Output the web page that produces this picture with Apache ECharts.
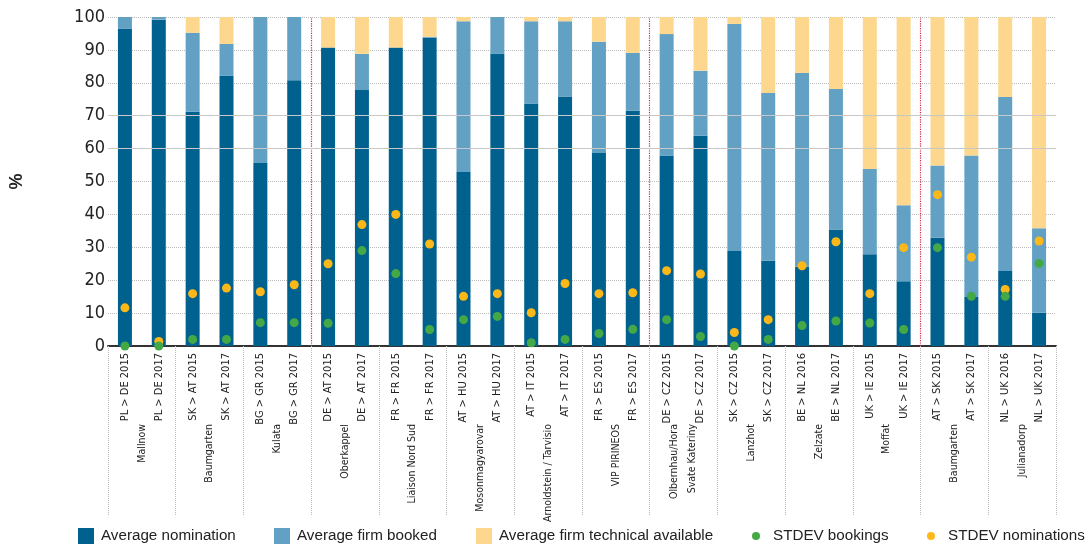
<!DOCTYPE html>
<html><head><meta charset="utf-8">
<script src="https://cdn.jsdelivr.net/npm/echarts@6/dist/echarts.min.js"></script>
<style>html,body{margin:0;padding:0;background:#fff}#c{width:1088px;height:549px}</style>
</head><body><div id="c"></div>
<script>
const categories = ['PL > DE 2015','PL > DE 2017','SK > AT 2015','SK > AT 2017','BG > GR 2015','BG > GR 2017','DE > AT 2015','DE > AT 2017','FR > FR 2015','FR > FR 2017','AT > HU 2015','AT > HU 2017','AT > IT 2015','AT > IT 2017','FR > ES 2015','FR > ES 2017','DE > CZ 2015','DE > CZ 2017','SK > CZ 2015','SK > CZ 2017','BE > NL 2016','BE > NL 2017','UK > IE 2015','UK > IE 2017','AT > SK 2015','AT > SK 2017','NL > UK 2016','NL > UK 2017'];
const groups = ['Mallnow','Baumgarten','Kulata','Oberkappel','Liaison Nord Sud','Mosonmagyarovar','Arnoldstein / Tarvisio','VIP PIRINEOS','Olbernhau/Hora\nSvate Kateriny','Lanzhot','Zelzate','Moffat','Baumgarten','Julianadorp'];
const avgNomination = [96.5,99.2,71.2,82.1,55.6,80.8,90.7,77.8,90.7,93.7,52.9,88.8,73.7,75.8,58.7,71.5,57.9,63.9,28.9,25.9,24.1,35.4,27.9,19.7,32.9,14.9,22.8,10.1];
const avgFirmBooked = [3.5,0.8,24.0,9.7,44.4,19.2,0,11.0,0,0.3,45.8,11.2,25.0,22.9,33.8,17.6,36.9,19.8,69.0,51.0,58.9,42.7,25.9,23.1,22.0,43.0,52.9,25.7];
const avgTechAvailable = [0,0,4.8,8.2,0,0,9.3,11.2,9.3,6.0,1.3,0,1.3,1.3,7.5,10.9,5.2,16.3,2.1,23.1,17.0,21.9,46.2,57.2,45.1,42.1,24.3,64.2];
const stdevBookings = [0,0,2.0,2.0,7.1,7.1,6.9,29.0,22.0,5.0,8.0,9.0,1.0,2.0,3.8,5.1,8.0,2.9,0,2.0,6.2,7.6,7.0,5.0,29.9,15.1,15.1,25.1];
const stdevNominations = [11.6,1.4,15.9,17.6,16.5,18.6,25.0,36.9,40.0,31.0,15.1,15.9,10.1,19.0,15.9,16.2,22.9,21.9,4.1,8.0,24.4,31.7,15.9,29.9,46.0,27.0,17.2,31.9];
const yTicks = [0,10,20,30,40,50,60,70,80,90,100];
const dividers = [6,16,24];
const legendNames = ['Average nomination','Average firm booked','Average firm technical available','STDEV bookings','STDEV nominations'];

const NARROW = "'DejaVu Sans Condensed','Liberation Sans Narrow',sans-serif";
const LEG = "'Liberation Sans',Arial,sans-serif";
const chart = echarts.init(document.getElementById('c'), null, {renderer:'canvas'});
const C1='#00618f', C2='#62a0c4', C3='#fed78e', CG='#45a846', CO='#fbb818';
const legendLeft = [78,274,476,752,927];
const legends = legendNames.map((n,i)=>({
  left:legendLeft[i], top:528, width:300, padding:0,
  itemWidth: i<3?16:8, itemHeight: i<3?16:8,
  icon: i<3?'rect':'circle',
  textStyle:{fontFamily:LEG,fontSize:15.2,color:'#222',lineHeight:16,padding:[0,0,0,i<3?2:8]},
  data:[n]
}));
chart.setOption({
  animation:false,
  grid:{left:105,right:32,top:17,bottom:203},
  legend:legends,
  xAxis:[{
    type:'category', data:categories, position:'bottom',
    axisLine:{lineStyle:{color:'#333',width:2}},
    axisTick:{show:false},
    axisLabel:{rotate:90, interval:0, margin:7, fontFamily:NARROW, fontSize:11, color:'#222'}
  },{
    type:'category', data:groups, position:'bottom', gridIndex:0,
    axisLine:{show:false},
    axisTick:{show:true, interval:0, length:170, lineStyle:{color:'#bbbbbb',type:'dotted',width:1}},
    axisLabel:{rotate:90, interval:0, margin:78, fontFamily:NARROW, fontSize:10.5, color:'#222', lineHeight:18}
  },{
    type:'value', min:0, max:categories.length, show:false
  }],
  yAxis:{
    type:'value', min:yTicks[0], max:yTicks[yTicks.length-1], interval:10,
    name:'%', nameLocation:'middle', nameGap:82, nameRotate:90,
    nameTextStyle:{fontFamily:LEG,fontSize:18,fontWeight:'bold',color:'#222'},
    axisLine:{show:false}, axisTick:{show:false},
    axisLabel:{margin:3, fontFamily:NARROW, fontSize:18, color:'#222'},
    splitLine:{lineStyle:{color:'#bdbdbd',type:'dotted',width:1}}
  },
  series:[
    {name:legendNames[0], type:'bar', stack:'a', barWidth:14, data:avgNomination, itemStyle:{color:C1}},
    {name:legendNames[1], type:'bar', stack:'a', barWidth:14, data:avgFirmBooked, itemStyle:{color:C2}},
    {name:legendNames[2], type:'bar', stack:'a', barWidth:14, data:avgTechAvailable, itemStyle:{color:C3}},
    {name:legendNames[4], type:'scatter', data:stdevNominations, symbolSize:9, clip:false, z:3, itemStyle:{color:CO,opacity:1}},
    {name:legendNames[3], type:'scatter', data:stdevBookings, symbolSize:9, clip:false, z:4, itemStyle:{color:CG,opacity:1}},
    {name:'dividers', type:'line', xAxisIndex:2, data:[], silent:true,
     markLine:{symbol:'none', silent:true, label:{show:false},
       lineStyle:{color:'#d0283a',type:'dotted',width:1.2},
       data:dividers.map(d=>({xAxis:d}))}},
    {name:'solidgrid', type:'line', xAxisIndex:2, data:[], silent:true, z:1,
     markLine:{symbol:'none', silent:true, label:{show:false},
       lineStyle:{color:'#c8c8c8',type:'solid',width:1},
       data:[{yAxis:60},{yAxis:70}]}}
  ]
});
</script></body></html>
